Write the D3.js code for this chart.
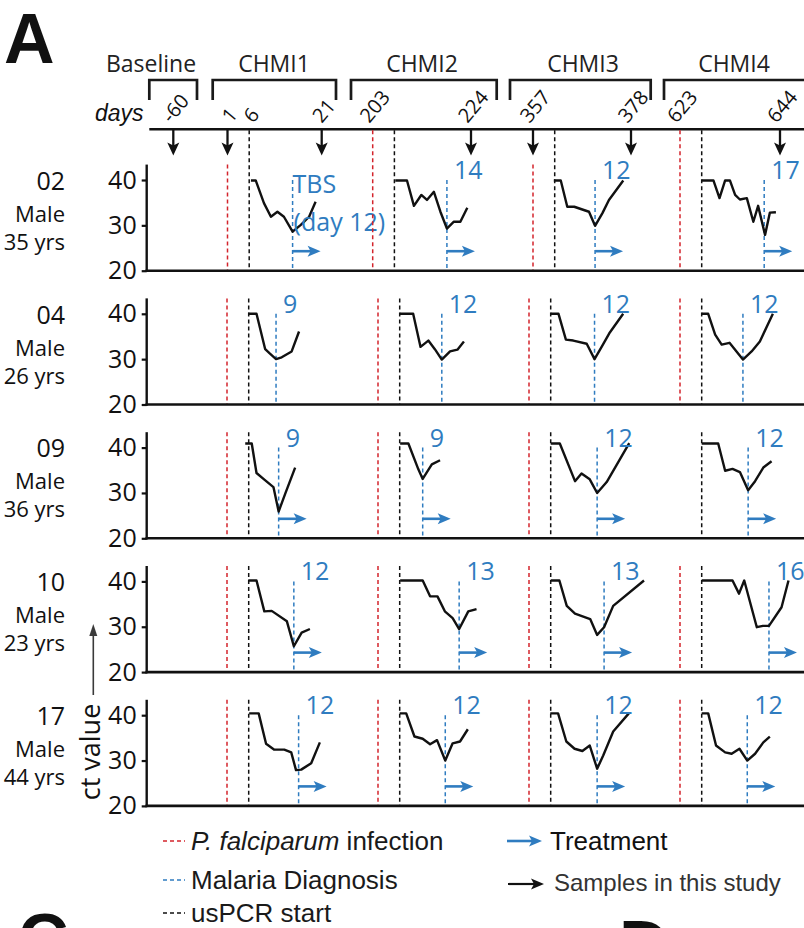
<!DOCTYPE html>
<html>
<head>
<meta charset="utf-8">
<script src="https://cdn.jsdelivr.net/npm/d3@7"></script>
<style>
body { margin: 0; background: #fff; }
svg { display: block; }
</style>
</head>
<body>
<svg id="fig" width="804" height="928"></svg>
<script>
// ---- data ----
var subjects = ["02", "04", "09", "10", "17"];
var sexes = ["Male", "Male", "Male", "Male", "Male"];
var ages = ["35 yrs", "26 yrs", "36 yrs", "23 yrs", "44 yrs"];
var periods = ["Baseline", "CHMI1", "CHMI2", "CHMI3", "CHMI4"];
var infectionDays = [1, 203, 357, 623];
var dayTicks = [-60, 1, 6, 21, 203, 224, 357, 378, 623, 644];
var sampleDays = [-60, 1, 21, 224, 357, 378, 644];
var usPcrDelay = 5;
var ctTicks = [20, 30, 40];
var treatmentCt = 24.3;

// diagnosis label per subject and CHMI, and where it sits (days after infection)
var diagLabels = [
  ["TBS|(day 12)", "14", "12", "17"],
  ["9", "12", "12", "12"],
  ["9", "9", "12", "12"],
  ["12", "13", "13", "16"],
  ["12", "12", "12", "12"]
];
var diagDays = [
  [15.0, 17.1, 14.3, 19.4],
  [11.3, 14.7, 15.1, 14.5],
  [11.9, 10.3, 15.7, 15.7],
  [15.4, 18.7, 17.3, 20.5],
  [16.5, 15.5, 15.7, 15.5]
];
var treated = [true, false, true, true, true];
var noInfectionLine = [[2, 3]];

// ct traces: [days after infection, ct]
var ctTraces = [
  [
    [[5.4,39.9],[6.5,39.9],[8.4,34.9],[10.0,31.9],[11.5,33.0],[13.0,31.9],[15.0,28.6],[16.9,30.1],[18.8,31.9],[20.3,35.2]],
    [[5.2,39.9],[7.9,39.9],[9.5,34.3],[11.2,36.7],[12.5,35.6],[14.1,37.4],[15.6,33.0],[17.1,29.3],[18.7,30.8],[20.2,30.8],[21.8,33.9]],
    [[4.8,39.9],[6.4,39.9],[7.9,34.1],[9.5,34.1],[12.9,33.0],[14.3,29.9],[16.0,32.7],[17.5,35.6],[20.8,39.9]],
    [[5.0,39.9],[7.7,39.9],[9.1,36.0],[10.4,39.9],[11.5,39.9],[12.7,36.7],[13.8,35.7],[15.4,36.0],[16.9,30.8],[18.0,34.3],[19.6,27.9],[20.7,32.8],[22.1,32.9]]
  ],
  [
    [[4.9,40],[6.8,40],[8.8,32.2],[9.9,31.2],[11.3,30.0],[12.6,30.4],[14.9,31.7],[16.6,36.1]],
    [[5.0,40],[8.1,40],[9.8,32.7],[11.6,34.1],[13.1,32.2],[14.7,29.9],[16.6,31.7],[18.3,32.1],[19.8,33.9]],
    [[5.0,40],[6.8,40],[8.5,34.3],[10.2,34.1],[13.3,33.4],[15.1,30.0],[16.8,32.8],[18.5,35.7],[21.7,40]],
    [[5.0,40],[6.5,40],[8.1,35.4],[9.6,33.2],[11.4,33.6],[14.5,29.9],[16.5,31.7],[18.4,33.9],[21.4,40]]
  ],
  [
    [[4.2,40.9],[5.7,40.9],[6.8,34.4],[8.4,33.1],[10.7,31.3],[11.9,25.9],[13.4,29.8],[15.7,35.6]],
    [[5.1,40.9],[7.0,40.9],[9.3,35.2],[10.3,33.1],[12.4,36.3],[14.3,37.2]],
    [[5.0,40.9],[7.1,40.9],[10.6,32.6],[12.1,34.3],[14.0,33.0],[15.7,30.0],[17.9,32.4],[23.1,41.0]],
    [[5.0,40.9],[8.8,40.9],[10.4,34.9],[12.1,35.3],[13.8,34.6],[15.7,30.6],[17.3,32.6],[19.2,35.6],[21.1,37.0]]
  ],
  [
    [[4.9,40.2],[6.8,40.2],[8.6,33.4],[10.3,33.5],[13.8,31.2],[15.4,25.7],[17.2,28.7],[19.1,29.5]],
    [[5.1,40.2],[10.3,40.2],[12.0,36.7],[13.7,36.7],[15.4,33.4],[17.2,31.9],[18.7,29.5],[20.8,33.4],[22.7,33.9]],
    [[5.0,40.2],[7.0,40.2],[8.7,34.6],[10.6,32.9],[14.1,31.7],[15.7,28.2],[17.3,29.9],[19.4,34.6],[26.5,40.2]],
    [[5.0,40.2],[12.1,40.2],[13.6,37.3],[14.8,40.2],[17.7,29.9],[19.1,30.2],[20.5,30.2],[23.4,34.3],[25.0,40.2]]
  ],
  [
    [[5.1,40.4],[7.3,40.4],[9.0,33.7],[10.9,32.4],[13.2,32.4],[14.8,31.8],[15.9,27.9],[17.1,28.0],[19.4,29.4],[21.4,34.0]],
    [[5.0,40.4],[6.5,40.4],[8.4,35.3],[10.3,34.8],[12.0,33.6],[13.6,34.5],[15.5,30.0],[17.2,33.8],[18.9,34.2],[20.7,36.9]],
    [[4.9,40.4],[6.7,40.4],[8.6,34.2],[10.5,32.6],[12.3,32.1],[14.0,33.3],[15.7,28.2],[17.1,31.1],[19.4,36.4],[23.0,40.4]],
    [[5.0,40.4],[6.5,40.4],[8.3,33.3],[10.4,31.8],[11.9,31.5],[13.7,32.6],[15.5,30.0],[17.3,31.5],[19.2,34.0],[20.7,35.3]]
  ]
];

var legendLines = ["P. falciparum| infection", "Malaria Diagnosis", "usPCR start"];
var legendArrows = ["Treatment", "Samples in this study"];

// ---- layout ----
var BLUE = "#2f7cc0", RED = "#d3242c", INK = "#111";
var sansM = "'Open Sans', 'Noto Sans', sans-serif";
var sansA = "'Liberation Sans', Arial, sans-serif";

var svg = d3.select("#fig");

var timelineY = 129.3;
var axisX = 146.7;
var rowBase0 = 270.7, rowStep = 133.8, plotH = 90.7;

// header timeline (not to scale, piecewise)
var hx = d3.scaleLinear()
  .domain(dayTicks)
  .range([173.3, 227.5, 249.2, 321.7, 372.7, 471, 533, 631, 680, 780]);
// later subjects: CHMI blocks evenly spaced
var blockX = d3.scaleLinear().domain([0, 3]).range([227, 680]);
// days inside one CHMI block
var dx = d3.scaleLinear().domain([0, usPcrDelay]).range([0, 21.7]);

function originX(r, c) { return r === 0 ? hx(infectionDays[c]) : blockX(c); }

function arrowRight(g, x0, y, len, color, w) {
  var x1 = x0 + len;
  g.append("line").attr("x1", x0).attr("x2", x1 - 8).attr("y1", y).attr("y2", y)
    .attr("stroke", color).attr("stroke-width", w);
  g.append("path")
    .attr("d", "M" + x1 + "," + y + "L" + (x1 - 13) + "," + (y - 5.5) + "L" + (x1 - 10) + "," + y + "L" + (x1 - 13) + "," + (y + 5.5) + "Z")
    .attr("fill", color);
}

function arrowDown(g, x, y0, y1) {
  g.append("line").attr("x1", x).attr("x2", x).attr("y1", y0).attr("y2", y1 - 8)
    .attr("stroke", INK).attr("stroke-width", 2.3);
  g.append("path")
    .attr("d", "M" + x + "," + y1 + "L" + (x - 6) + "," + (y1 - 13) + "L" + x + "," + (y1 - 10) + "L" + (x + 6) + "," + (y1 - 13) + "Z")
    .attr("fill", INK);
}

// ---- panel letters ----
svg.append("text").attr("x", 4).attr("y", 63).text("A")
  .attr("font-family", sansA).attr("font-weight", "bold").attr("font-size", 70).attr("fill", "#111");
svg.append("text").attr("x", 18).attr("y", 963).text("C")
  .attr("font-family", sansA).attr("font-weight", "bold").attr("font-size", 70).attr("fill", "#111");
svg.append("text").attr("x", 619).attr("y", 970).text("D")
  .attr("font-family", sansA).attr("font-weight", "bold").attr("font-size", 70).attr("fill", "#111");

// ---- header ----
var head = svg.append("g");
var bracketX = [[149.3, 197], [212.7, 336], [351, 496.7], [510, 650.7], [664, 830]];
var periodLabelX = [151, 274, 422, 583, 734];

head.selectAll(".bracket").data(periods).enter().append("path")
  .attr("class", "bracket")
  .attr("d", function (d, i) {
    var b = bracketX[i];
    return "M" + b[0] + ",100V80H" + b[1] + "V100";
  })
  .attr("fill", "none").attr("stroke", "#1a1a1a").attr("stroke-width", 2.7);

head.selectAll(".period").data(periods).enter().append("text")
  .attr("x", function (d, i) { return periodLabelX[i]; })
  .attr("y", 72).attr("text-anchor", "middle")
  .attr("font-family", sansM).attr("font-size", 23).attr("fill", "#222")
  .text(function (d) { return d; });

head.append("text").attr("x", 95).attr("y", 121).text("days")
  .attr("font-family", sansA).attr("font-style", "italic").attr("font-size", 23).attr("fill", "#111");

head.append("line").attr("x1", 149.3).attr("x2", 804).attr("y1", timelineY).attr("y2", timelineY)
  .attr("stroke", "#111").attr("stroke-width", 2.6);

var tickFont = 20;
dayTicks.forEach(function (d) {
  var t = head.append("text").text(String(d))
    .attr("font-family", sansM).attr("font-size", tickFont).attr("fill", "#111");
  var L = t.node().getComputedTextLength();
  var capH = 0.714 * tickFont;
  var ox = hx(d) + 2 - (0.643 * L - 0.766 * capH) / 2;
  t.attr("transform", "translate(" + ox + ",124) rotate(-50)");
});

sampleDays.forEach(function (d) { arrowDown(head, hx(d), timelineY, 155.5); });

// ---- panels ----
var line = d3.line();

subjects.forEach(function (s, r) {
  var base = rowBase0 + r * rowStep;
  var y = d3.scaleLinear().domain([20, 40]).range([base, base - plotH]);
  var yTop = y(43.4);
  var g = svg.append("g");

  // row labels
  g.append("text").attr("x", 65).attr("y", base - 81).attr("text-anchor", "end")
    .attr("font-family", sansM).attr("font-size", 25).attr("fill", "#111").text(s);
  g.append("text").attr("x", 65).attr("y", base - 49).attr("text-anchor", "end")
    .attr("font-family", sansM).attr("font-size", 22).attr("fill", "#111").text(sexes[r]);
  g.append("text").attr("x", 65).attr("y", base - 21).attr("text-anchor", "end")
    .attr("font-family", sansM).attr("font-size", 22).attr("fill", "#111").text(ages[r]);

  infectionDays.forEach(function (inf, c) {
    var ox = originX(r, c);
    var skipRed = noInfectionLine.some(function (p) { return p[0] === r && p[1] === c; });
    var lines = [];
    if (!skipRed) lines.push({ day: 0, abs: inf, color: RED });
    lines.push({ day: usPcrDelay, abs: inf + usPcrDelay, color: "#111" });

    lines.forEach(function (l) {
      var top = yTop;
      if (r === 0 && sampleDays.indexOf(l.abs) < 0) top = timelineY + 1;
      g.append("line").attr("x1", ox + dx(l.day)).attr("x2", ox + dx(l.day))
        .attr("y1", top).attr("y2", base)
        .attr("stroke", l.color).attr("stroke-width", 1.5).attr("stroke-dasharray", "4,3");
    });

    var bx = ox + dx(diagDays[r][c]);
    g.append("line").attr("x1", bx).attr("x2", bx).attr("y1", y(40)).attr("y2", base)
      .attr("stroke", BLUE).attr("stroke-width", 1.5).attr("stroke-dasharray", "4,3");

    g.append("path")
      .attr("d", line(ctTraces[r][c].map(function (p) { return [ox + dx(p[0]), y(p[1])]; })))
      .attr("fill", "none").attr("stroke", INK).attr("stroke-width", 2.4)
      .attr("stroke-linejoin", "round");

    var parts = diagLabels[r][c].split("|");
    if (parts.length === 1) {
      g.append("text").attr("x", bx + 7).attr("y", y(40) - 1)
        .attr("font-family", sansM).attr("font-size", 25).attr("fill", BLUE).text(parts[0]);
    } else {
      g.append("text").attr("x", bx).attr("y", y(40) + 13)
        .attr("font-family", sansM).attr("font-size", 25).attr("fill", BLUE).text(parts[0]);
      g.append("text").attr("x", bx + 1).attr("y", y(40) + 51)
        .attr("font-family", sansM).attr("font-size", 25).attr("fill", BLUE).text(parts[1]);
    }

    if (treated[r]) arrowRight(g, bx, y(treatmentCt), 28, BLUE, 2.6);
  });

  // axes
  var ax = g.append("g").attr("transform", "translate(" + axisX + ",0)")
    .call(d3.axisLeft(y).tickValues(ctTicks).tickSize(5).tickPadding(5));
  ax.select(".domain").remove();
  ax.selectAll(".tick line").attr("stroke", "#111").attr("stroke-width", 2.2);
  ax.selectAll(".tick text").attr("font-family", sansM).attr("font-size", 25).attr("fill", "#111");

  g.append("line").attr("x1", axisX).attr("x2", axisX).attr("y1", yTop).attr("y2", base + 1.2)
    .attr("stroke", "#111").attr("stroke-width", 2.4);
  g.append("line").attr("x1", axisX - 1.2).attr("x2", 804).attr("y1", base).attr("y2", base)
    .attr("stroke", "#111").attr("stroke-width", 2.6);
});

// ---- ct value label ----
svg.append("text").attr("transform", "translate(100,752) rotate(-90)")
  .attr("text-anchor", "middle").attr("font-family", sansM).attr("font-size", 27).attr("fill", "#111")
  .text("ct value");
svg.append("line").attr("x1", 93.3).attr("x2", 93.3).attr("y1", 695).attr("y2", 632)
  .attr("stroke", "#3a3a3a").attr("stroke-width", 1.6);
svg.append("path").attr("d", "M93.3,624L89.3,636L97.3,636Z").attr("fill", "#3a3a3a");

// ---- legend ----
var leg = svg.append("g");
var legColors = [RED, BLUE, "#111"];
var legY = [841, 880, 913];
legendLines.forEach(function (txt, i) {
  leg.append("line").attr("x1", 163).attr("x2", 185).attr("y1", legY[i]).attr("y2", legY[i])
    .attr("stroke", legColors[i]).attr("stroke-width", 1.5).attr("stroke-dasharray", "4,3");
  var t = leg.append("text").attr("x", 191).attr("y", legY[i] + 9)
    .attr("font-family", sansA).attr("font-size", 26).attr("fill", "#1a1a1a");
  var parts = txt.split("|");
  t.append("tspan").attr("font-style", parts.length > 1 ? "italic" : "normal").text(parts[0]);
  if (parts.length > 1) t.append("tspan").text(parts[1]);
});

arrowRight(leg, 507, 841, 35, BLUE, 2.6);
leg.append("text").attr("x", 550).attr("y", 850).text(legendArrows[0])
  .attr("font-family", sansA).attr("font-size", 26).attr("fill", "#111");
arrowRight(leg, 508, 884, 36, INK, 2.2);
leg.append("text").attr("x", 554).attr("y", 891).text(legendArrows[1])
  .attr("font-family", sansA).attr("font-size", 24).attr("fill", "#333");
</script>
</body>
</html>
